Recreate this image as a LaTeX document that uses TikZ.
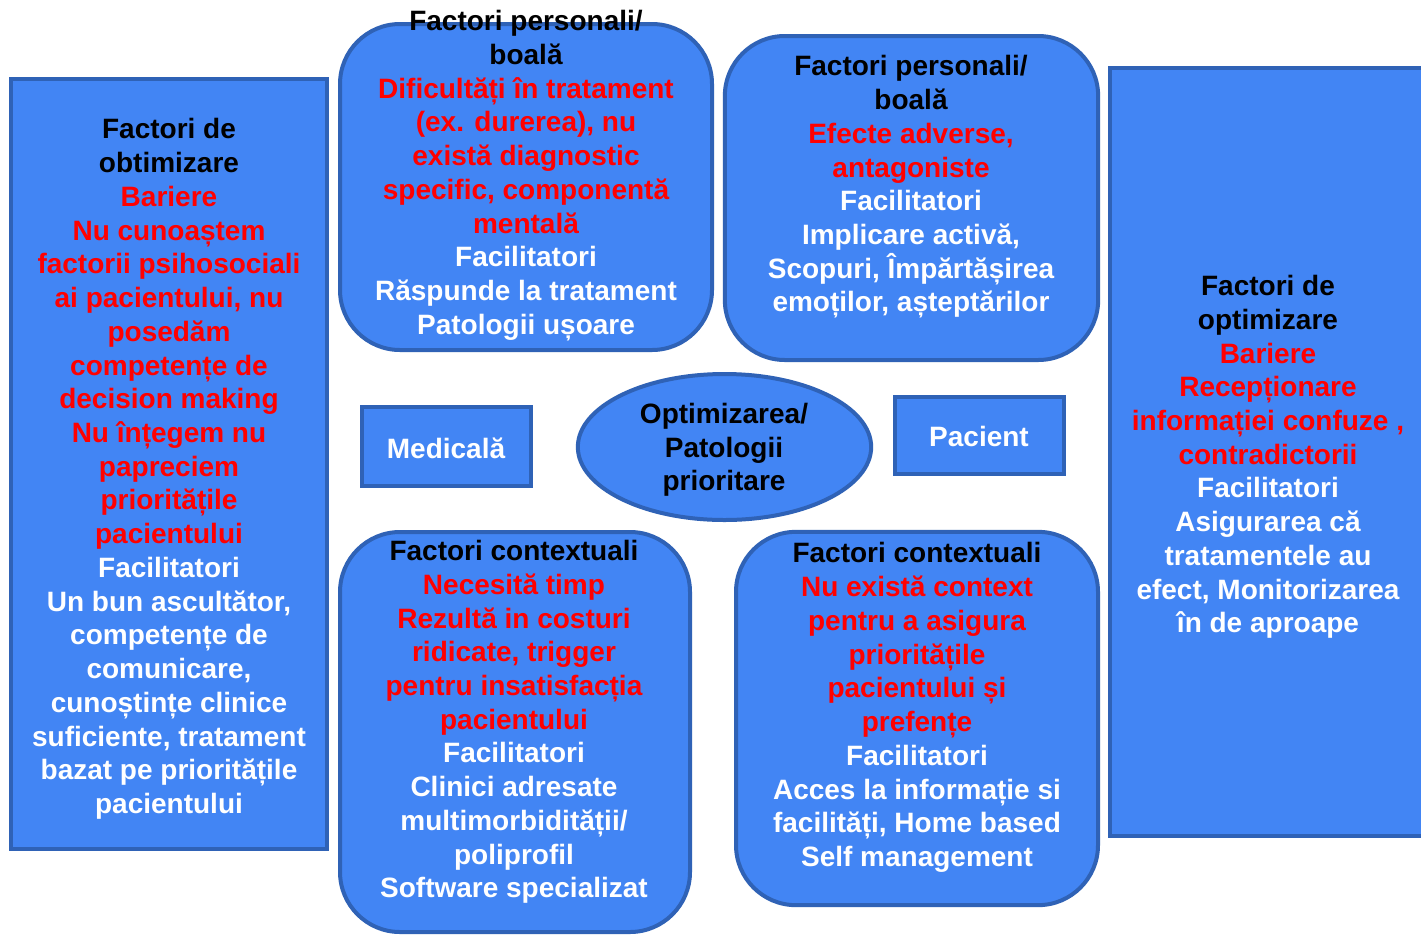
\documentclass[tikz,border=0pt]{standalone}
\usepackage{fontspec}
\usetikzlibrary{shapes.geometric}
\setmainfont{Liberation Sans}
\definecolor{boxfill}{HTML}{4285F4}
\definecolor{boxline}{HTML}{2F62B6}
\definecolor{barrier}{HTML}{FF0000}
\newcommand\hd[1]{\textcolor{black}{#1}}
\newcommand\barr[1]{\textcolor{barrier}{#1}}
\begin{document}
\begin{tikzpicture}[x=0.75pt,y=-0.75pt,
  panel/.style={draw=boxline, fill=boxfill, line width=3pt, inner sep=0pt},
  sq/.style={panel, rectangle},
  rnd/.style={panel, rectangle, rounded corners=45pt},
  oval/.style={panel, ellipse},
  label text/.style={align=center, text=white, inner sep=0pt,
    font=\bfseries\fontsize{21}{25.3}\selectfont},
  body/.style={label text, yshift=-3pt},
  core/.style={label text, text=black, yshift=-1.5pt},
]
\clip (0,0) rectangle (1421,936);
\fill[white] (0,0) rectangle (1421,936);

% panels
\node[sq,  minimum width=237pt,   minimum height=577.5pt] (optL) at (169,464) {};
\node[rnd, minimum width=279pt,   minimum height=244.5pt] (persA) at (526,187) {};
\node[rnd, minimum width=280pt,   minimum height=243pt]   (persB) at (911.5,198) {};
\node[sq,  minimum width=246pt,   minimum height=576pt]   (optR) at (1274,452) {};
\node[sq,  minimum width=127pt,   minimum height=59pt]    (med) at (446.5,446.5) {};
\node[sq,  minimum width=127pt,   minimum height=58pt]    (pac) at (979.5,435.5) {};
\node[oval,minimum width=220pt,   minimum height=109.5pt] (centre) at (724.5,447) {};
\node[rnd, minimum width=262.5pt, minimum height=300pt]   (ctxA) at (515,732) {};
\node[rnd, minimum width=271.5pt, minimum height=280pt]   (ctxB) at (917,718.5) {};

% texts
\node[body] (tOptL) at (169,465) {\hd{Factori de}\\\hd{obtimizare}\\
  \barr{Bariere}\\\barr{Nu cunoaștem}\\\barr{factorii psihosociali}\\
  \barr{ai pacientului, nu}\\\barr{posedăm}\\\barr{competențe de}\\
  \barr{decision making}\\\barr{Nu înțegem nu}\\\barr{papreciem}\\
  \barr{prioritățile}\\\barr{pacientului}\\
  Facilitatori\\Un bun ascultător,\\competențe de\\comunicare,\\
  cunoștințe clinice\\suficiente, tratament\\bazat pe prioritățile\\pacientului};

\node[body] (tPersA) at (526,171.5) {\hd{Factori personali/}\\\hd{boală}\\
  \barr{Dificultăți în tratament}\\\barr{(ex. durerea), nu}\\
  \barr{există diagnostic}\\\barr{specific, componentă}\\\barr{mentală}\\
  Facilitatori\\Răspunde la tratament\\Patologii ușoare};

\node[body] (tPersB) at (911,183) {\hd{Factori personali/}\\\hd{boală}\\
  \barr{Efecte adverse,}\\\barr{antagoniste}\\
  Facilitatori\\Implicare activă,\\Scopuri, Împărtășirea\\emoților, așteptărilor};

\node[body] (tOptR) at (1268,453) {\hd{Factori de}\\\hd{optimizare}\\
  \barr{Bariere}\\\barr{Recepționare}\\\barr{informației confuze ,}\\
  \barr{contradictorii}\\
  Facilitatori\\Asigurarea că\\tratamentele au\\efect, Monitorizarea\\în de aproape};

\node[label text] (tMed) at (446,448) {Medicală};
\node[label text] (tPac) at (979,436) {Pacient};
\node[core] (tCentre) at (724,448) {Optimizarea/\\Patologii\\prioritare};

\node[body] (tCtxA) at (514,718) {\hd{Factori contextuali}\\
  \barr{Necesită timp}\\\barr{Rezultă in costuri}\\\barr{ridicate, trigger}\\
  \barr{pentru insatisfacția}\\\barr{pacientului}\\
  Facilitatori\\Clinici adresate\\multimorbidității/\\poliprofil\\Software specializat};

\node[body] (tCtxB) at (917,703.5) {\hd{Factori contextuali}\\
  \barr{Nu există context}\\\barr{pentru a asigura}\\\barr{prioritățile}\\
  \barr{pacientului și}\\\barr{prefențe}\\
  Facilitatori\\Acces la informație si\\facilități, Home based\\Self management};
\end{tikzpicture}
\end{document}
